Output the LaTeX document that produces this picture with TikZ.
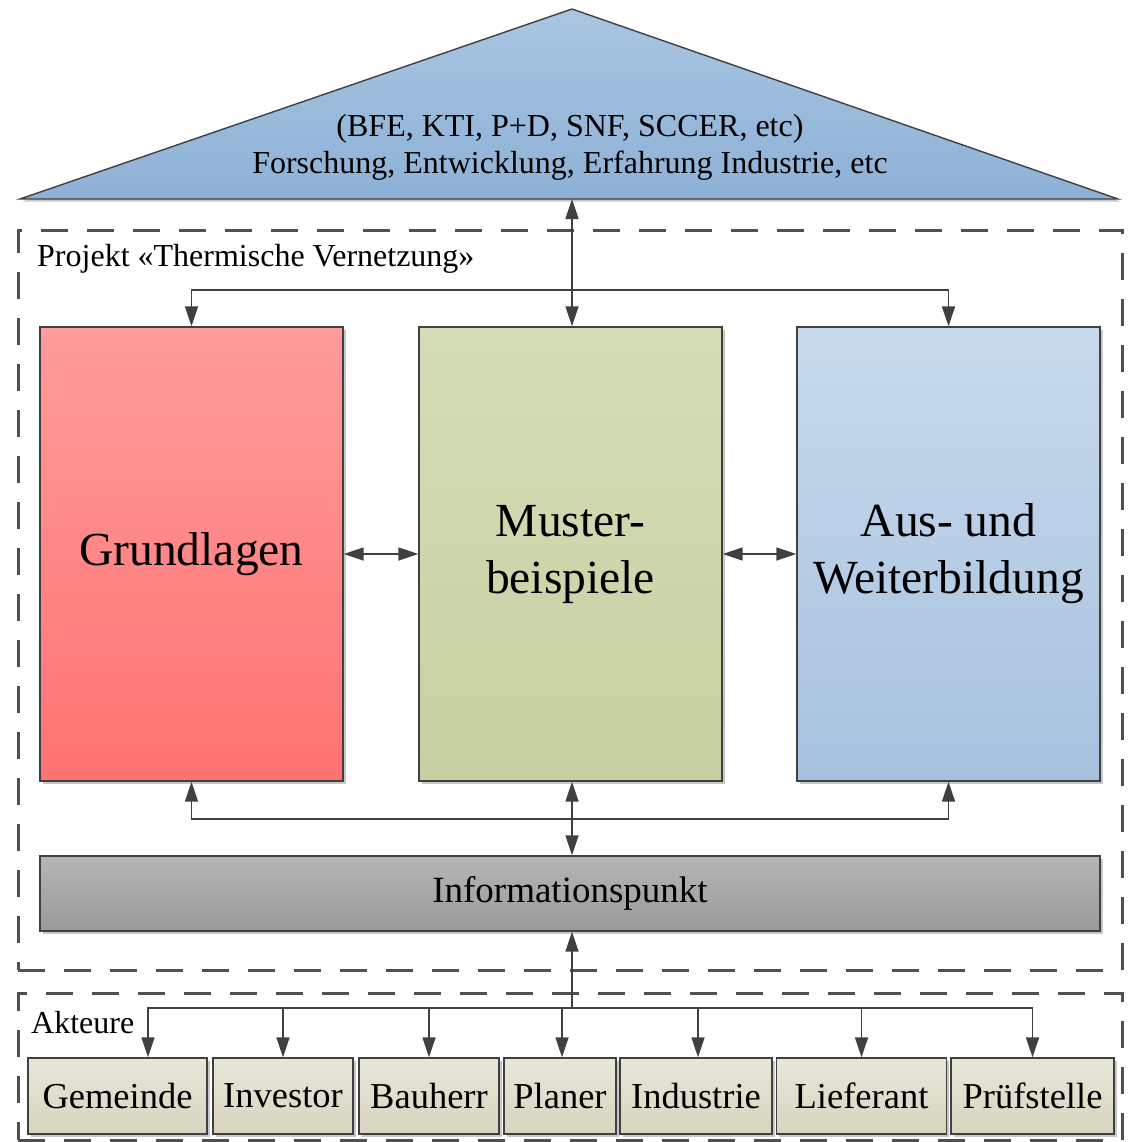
\documentclass[tikz,border=0pt]{standalone}
\usepackage{fontspec}
\setmainfont{Liberation Serif}
\usetikzlibrary{arrows.meta,shadows,calc}
\definecolor{ln}{HTML}{404040}
\definecolor{dsh}{HTML}{505050}
\definecolor{triT}{HTML}{A9C5E1}
\definecolor{triB}{HTML}{8DB1D6}
\definecolor{redT}{HTML}{FF9C9C}
\definecolor{redB}{HTML}{FF7272}
\definecolor{grnT}{HTML}{D5DDB9}
\definecolor{grnB}{HTML}{C6D09F}
\definecolor{bluT}{HTML}{C9DAEC}
\definecolor{bluB}{HTML}{A6C1DF}
\definecolor{gryT}{HTML}{B5B5B5}
\definecolor{gryB}{HTML}{9A9A9A}
\definecolor{actT}{HTML}{E8E6D8}
\definecolor{actB}{HTML}{D7D5BF}
\tikzset{
  shad/.style={drop shadow={shadow xshift=2.5pt,shadow yshift=-2.5pt,fill=black,opacity=0.22}},
  bigbox/.style={draw=ln,line width=1.4pt,minimum width=303pt,minimum height=454pt,inner sep=0pt,
    font=\fontsize{47.5}{57}\selectfont,align=center,shad},
  actbox/.style={draw=ln,line width=1.4pt,minimum height=76pt,inner sep=0pt,
    top color=actT,bottom color=actB,font=\fontsize{36.5}{40}\selectfont,shad},
  dashbox/.style={draw=dsh,line width=3pt,dash pattern=on 27pt off 19pt,inner sep=0pt},
  conn/.style={draw=ln,line width=1.7pt},
  arr/.style={conn,-{Triangle[length=20pt,width=13pt]}},
  dbl/.style={conn,{Triangle[length=20pt,width=13pt]}-{Triangle[length=20pt,width=13pt]}},
  lbl/.style={font=\fontsize{32}{37}\selectfont,inner sep=0pt}
}
\begin{document}
\begin{tikzpicture}[x=1pt,y=-1pt]
\useasboundingbox (0,0) rectangle (1128,1142);

% roof
\fill[black,opacity=0.22] (574.5,11.5) -- (1120.5,201.5) -- (22.5,201.5) -- cycle;
\path[draw=ln,line width=1.4pt,top color=triT,bottom color=triB]
  (572,9) -- (1118,199) -- (20,199) -- cycle;
\coordinate (roofbase) at (572,199);
\node[lbl,align=center] (rooftext) at (570,147)
  {(BFE, KTI, P+D, SNF, SCCER, etc)\\Forschung, Entwicklung, Erfahrung Industrie, etc};

% dashed containers
\node[dashbox,minimum width=1104pt,minimum height=740pt] (proj) at (570,600) {};
\node[dashbox,minimum width=1104pt,minimum height=147pt] (akt) at (570,1066.5) {};
\node[lbl,anchor=west] (projlbl) at (37,259) {Projekt «Thermische Vernetzung»};
\node[lbl,anchor=west] (aktlbl) at (31,1023) {Akteure};

% main boxes
\node[bigbox,top color=redT,bottom color=redB] (grund) at (191.5,554) {Grundlagen};
\node[bigbox,top color=grnT,bottom color=grnB] (must) at (570.5,554) {Muster-\\beispiele};
\node[bigbox,top color=bluT,bottom color=bluB] (aus) at (948.5,554) {Aus- und\\Weiterbildung};

\node[draw=ln,line width=1.4pt,minimum width=1060pt,minimum height=75pt,inner sep=0pt,
  top color=gryT,bottom color=gryB,font=\fontsize{37}{40}\selectfont,shad] (info) at (570,893.5) {Informationspunkt};

% actors
\node[actbox,minimum width=179pt] (gem) at (117.5,1096) {Gemeinde};
\node[actbox,minimum width=140pt] (inv) at (283,1096) {Investor};
\node[actbox,minimum width=140pt] (bau) at (429,1096) {Bauherr};
\node[actbox,minimum width=112pt] (pla) at (560,1096) {Planer};
\node[actbox,minimum width=152pt] (ind) at (696,1096) {Industrie};
\node[actbox,minimum width=170pt] (lie) at (861.5,1096) {Lieferant};
\node[actbox,minimum width=163pt] (pru) at (1032.5,1096) {Prüfstelle};

% connectors top
\coordinate (topbus) at (572,290);
\draw[dbl] (roofbase) -- (must.north -| roofbase);
\draw[arr] (topbus) -| (grund.north);
\draw[arr] (topbus) -| (aus.north);

% side arrows
\draw[dbl] (grund.east) -- (must.west);
\draw[dbl] (must.east) -- (aus.west);

% bottom
\coordinate (botbus) at (572,819);
\draw[arr] (botbus) -| (grund.south);
\draw[arr] (botbus) -| (aus.south);
\draw[dbl] (must.south -| botbus) -- (info.north -| botbus);

% actors bus
\coordinate (actbus) at (572,1008);
\draw[arr] (actbus) -- (info.south -| actbus);
\coordinate (gemin) at ($(gem.north)+(30.5,0)$);
\draw[arr] (actbus) -| (gemin);
\draw[arr] (actbus) -| (inv.north);
\draw[arr] (actbus) -| (bau.north);
\draw[arr] (actbus) -| ($(pla.north)+(2,0)$);
\draw[arr] (actbus) -| ($(ind.north)+(2,0)$);
\draw[arr] (actbus) -| (lie.north);
\draw[arr] (actbus) -| (pru.north);
\end{tikzpicture}
\end{document}
